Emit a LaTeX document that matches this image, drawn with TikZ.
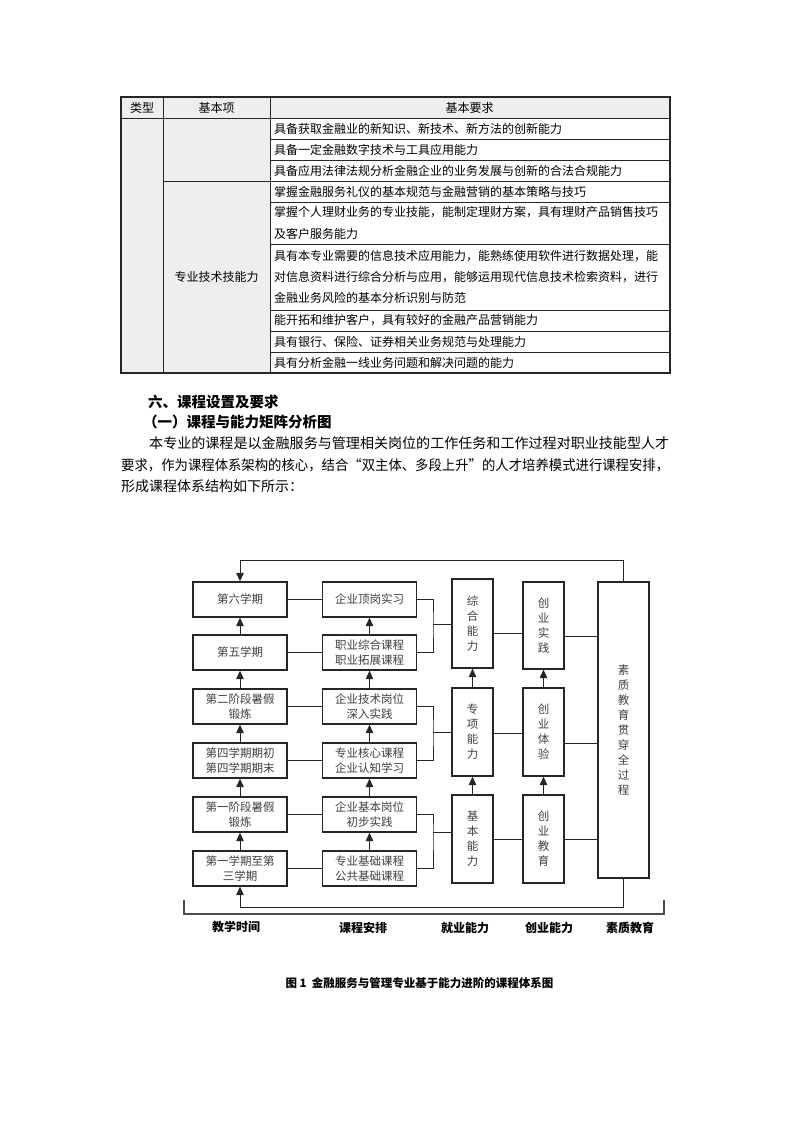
\documentclass[tikz,border=0pt]{standalone}
\usepackage{fontspec}
\setmainfont{Noto Sans CJK SC}
\usetikzlibrary{arrows.meta}
\begin{document}
\begin{tikzpicture}[x=1pt,y=-1pt,
  tline/.style={line width=0.9pt, draw=black!85},
  cell/.style={anchor=west, inner sep=0, font=\fontsize{12}{21}\selectfont},
  ctr/.style={inner sep=0, font=\fontsize{12}{21}\selectfont},
  para/.style={anchor=west, inner sep=0, font=\fontsize{14}{21}\selectfont},
  head/.style={anchor=west, inner sep=0, font=\fontsize{14.5}{21}\bfseries\selectfont},
  hbox/.style={draw=black!85, line width=1.3pt, minimum width=94pt, minimum height=35pt, inner sep=0, align=center, font=\fontsize{11.5}{15}\selectfont, text=black!75},
  vbox/.style={draw=black!85, line width=1.3pt, minimum width=41pt, inner sep=0, align=center, font=\fontsize{11.5}{15}\selectfont, text=black!75},
  conn/.style={line width=0.9pt, draw=black!85},
  arr/.style={line width=1pt, draw=black!85, -{Triangle[length=8.5pt,width=7.5pt]}},
  lab/.style={inner sep=0, font=\fontsize{12}{14}\bfseries\selectfont},
]
\useasboundingbox (0,0) rectangle (793,1122);
\fill[white] (0,0) rectangle (793,1122);

% ---------- table ----------
\fill[gray!13] (121,97) rectangle (670,118);
\fill[gray!13] (121,118) rectangle (270,373);
\foreach \y in {118,139,160,181,202,244,310,331,352} {\draw[tline] (270,\y) -- (670,\y);}
\draw[tline] (121,118) -- (270,118);
\draw[tline] (163,181) -- (270,181);
\draw[tline] (163,97) -- (163,373);
\draw[tline] (270,97) -- (270,373);
\draw[line width=1.4pt, draw=black!85] (121,97) rectangle (670,373);
\node[ctr] (t1) at (142,107.5) {类型};
\node[ctr] (t2) at (216.5,107.5) {基本项};
\node[ctr] (t3) at (469.5,107.5) {基本要求};
\node[ctr] (t4) at (216.5,277) {专业技术技能力};
\node[cell] (r1) at (274,128.5) {具备获取金融业的新知识、新技术、新方法的创新能力};
\node[cell] (r2) at (274,149.5) {具备一定金融数字技术与工具应用能力};
\node[cell] (r3) at (274,170.5) {具备应用法律法规分析金融企业的业务发展与创新的合法合规能力};
\node[cell] (r4) at (274,191.5) {掌握金融服务礼仪的基本规范与金融营销的基本策略与技巧};
\node[cell] (r5a) at (274,212.5) {掌握个人理财业务的专业技能，能制定理财方案，具有理财产品销售技巧};
\node[cell] (r5b) at (274,233.5) {及客户服务能力};
\node[cell] (r6a) at (274,256) {具有本专业需要的信息技术应用能力，能熟练使用软件进行数据处理，能};
\node[cell] (r6b) at (274,277) {对信息资料进行综合分析与应用，能够运用现代信息技术检索资料，进行};
\node[cell] (r6c) at (274,298) {金融业务风险的基本分析识别与防范};
\node[cell] (r7) at (274,320.5) {能开拓和维护客户，具有较好的金融产品营销能力};
\node[cell] (r8) at (274,341.5) {具有银行、保险、证券相关业务规范与处理能力};
\node[cell] (r9) at (274,362.5) {具有分析金融一线业务问题和解决问题的能力};

% ---------- headings and paragraph ----------
\node[head] (h1) at (148,402) {六、课程设置及要求};
\node[head] (h2) at (143,422) {（一）课程与能力矩阵分析图};
\node[para] (p1) at (149,443) {\resizebox{520pt}{\height}{本专业的课程是以金融服务与管理相关岗位的工作任务和工作过程对职业技能型人才}};
\node[para] (p2) at (121,465) {\resizebox{548pt}{\height}{要求，作为课程体系架构的核心，结合“双主体、多段上升”的人才培养模式进行课程安排，}};
\node[para] (p3) at (121,486) {形成课程体系结构如下所示：};

% ---------- diagram ----------
\node[hbox] (L1) at (240,599.5) {第六学期};
\node[hbox] (L2) at (240,652.5) {第五学期};
\node[hbox] (L3) at (240,706.5) {第二阶段暑假\\锻炼};
\node[hbox] (L4) at (240,760.5) {第四学期期初\\第四学期期末};
\node[hbox] (L5) at (240,814.5) {第一阶段暑假\\锻炼};
\node[hbox] (L6) at (240,868.5) {第一学期至第\\三学期};

\node[hbox] (M1) at (369.5,599.5) {企业顶岗实习};
\node[hbox] (M2) at (369.5,652.5) {职业综合课程\\职业拓展课程};
\node[hbox] (M3) at (369.5,706.5) {企业技术岗位\\深入实践};
\node[hbox] (M4) at (369.5,760.5) {专业核心课程\\企业认知学习};
\node[hbox] (M5) at (369.5,814.5) {企业基本岗位\\初步实践};
\node[hbox] (M6) at (369.5,868.5) {专业基础课程\\公共基础课程};

\node[vbox, minimum height=89pt] (Z) at (472.5,623.5) {综\\合\\能\\力};
\node[vbox, minimum height=88pt] (X) at (472.5,732) {专\\项\\能\\力};
\node[vbox, minimum height=88pt] (J) at (472.5,839) {基\\本\\能\\力};

\node[vbox, minimum height=87pt] (CP) at (543.5,625.5) {创\\业\\实\\践};
\node[vbox, minimum height=88pt] (CT) at (543.5,732) {创\\业\\体\\验};
\node[vbox, minimum height=88pt] (CE) at (543.5,839) {创\\业\\教\\育};

\node[vbox, minimum width=51pt, minimum height=296pt] (S) at (623.5,730) {素\\质\\教\\育\\贯\\穿\\全\\过\\程};

\foreach \i in {1,...,6} {\draw[conn] (L\i.east) -- (M\i.west);}
\foreach \a/\b in {L2/L1,L3/L2,L4/L3,L5/L4,L6/L5,M2/M1,M3/M2,M4/M3,M5/M4,M6/M5,X/Z,J/X,CT/CP,CE/CT} {\draw[arr] (\a.north) -- (\b.south);}

\coordinate (bA) at (433,624);
\coordinate (bB) at (433,732);
\coordinate (bC) at (433,832);
\draw[conn] (M1.east) -| (bA) |- (M2.east);
\draw[conn] (bA) -- (Z.west |- bA);
\draw[conn] (M3.east) -| (bB) |- (M4.east);
\draw[conn] (bB) -- (X.west |- bB);
\draw[conn] (M5.east) -| (bC) |- (M6.east);
\draw[conn] (bC) -- (J.west |- bC);

\coordinate (c1) at (0,633);
\coordinate (c2) at (0,636);
\coordinate (c3) at (0,733);
\coordinate (c4) at (0,743);
\coordinate (c5) at (0,839);
\draw[conn] (Z.east |- c1) -- (CP.west |- c1);
\draw[conn] (CP.east |- c2) -- (S.west |- c2);
\draw[conn] (X.east |- c3) -- (CT.west |- c3);
\draw[conn] (CT.east |- c4) -- (S.west |- c4);
\draw[conn] (J.east |- c5) -- (CE.west |- c5);
\draw[conn] (CE.east |- c5) -- (S.west |- c5);

\coordinate (topy) at (0,560);
\coordinate (boty) at (0,907);
\draw[arr] (S.north) -- (S.north |- topy) -| (L1.north);
\draw[arr] (S.south) -- (S.south |- boty) -| (L6.south);

\coordinate (brA) at (184,900);
\coordinate (brB) at (184,914);
\coordinate (brC) at (664,914);
\coordinate (brD) at (664,900);
\draw[line width=1.2pt, draw=black!70] (brA) -- (brB) -- (brC) -- (brD);

\node[lab] (g1) at (236,927) {教学时间};
\node[lab] (g2) at (363,928) {课程安排};
\node[lab] (g3) at (465,928) {就业能力};
\node[lab] (g4) at (549,928) {创业能力};
\node[lab] (g5) at (630,928) {素质教育};

\node[inner sep=0, font=\fontsize{11.5}{13}\bfseries\selectfont] (cap) at (419.5,983) {图 1\ \ 金融服务与管理专业基于能力进阶的课程体系图};
\end{tikzpicture}
\end{document}
